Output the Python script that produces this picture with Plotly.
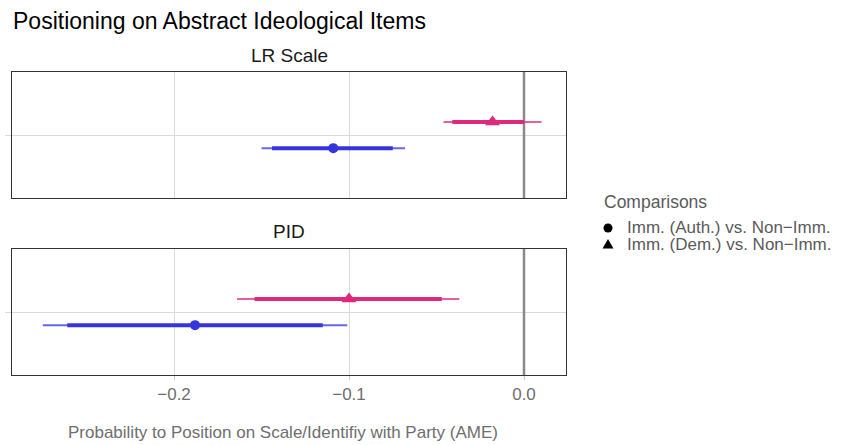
import plotly.graph_objects as go

# Panels (facets) and comparisons
panels = ["LR Scale", "PID"]
comparisons = ["Imm. (Auth.) vs. Non\u2212Imm.", "Imm. (Dem.) vs. Non\u2212Imm."]
symbols = ["circle", "triangle-up"]
marker_sizes = [10, 13]
colors = ["#3535DE", "#DE2A7E"]
offsets = [-0.125, 0.125]

# AME estimates: [LR Scale, PID]
auth_est = [-0.109, -0.188]
auth_lo95 = [-0.150, -0.275]
auth_hi95 = [-0.068, -0.101]
auth_lo90 = [-0.144, -0.261]
auth_hi90 = [-0.075, -0.115]

dem_est = [-0.018, -0.100]
dem_lo95 = [-0.046, -0.164]
dem_hi95 = [0.010, -0.037]
dem_lo90 = [-0.041, -0.154]
dem_hi90 = [0.000, -0.047]

series = [
    (auth_est, auth_lo95, auth_hi95, auth_lo90, auth_hi90),
    (dem_est, dem_lo95, dem_hi95, dem_lo90, dem_hi90),
]

W, H = 844, 445
def px_x(v):
    return v / W
def px_y(v):
    return 1 - v / H

fig = go.Figure()

axis_names = [("x", "y"), ("x2", "y2")]
YR = [0.4, 1.6]
for p, (xa, ya) in enumerate(axis_names):
    # reference line at zero
    fig.add_trace(go.Scatter(
        x=[0, 0], y=YR, mode="lines", line=dict(color="#8A8A8A", width=2.5),
        xaxis=xa, yaxis=ya, showlegend=False, hoverinfo="skip"))
    for s, (est, lo95, hi95, lo90, hi90) in enumerate(series):
        yy = 1 + offsets[s]
        fig.add_trace(go.Scatter(
            x=[lo95[p], hi95[p]], y=[yy, yy], mode="lines",
            line=dict(color=colors[s], width=2), opacity=0.75,
            xaxis=xa, yaxis=ya, showlegend=False, hoverinfo="skip"))
        fig.add_trace(go.Scatter(
            x=[lo90[p], hi90[p]], y=[yy, yy], mode="lines",
            line=dict(color=colors[s], width=4),
            xaxis=xa, yaxis=ya, showlegend=False, hoverinfo="skip"))
        fig.add_trace(go.Scatter(
            x=[est[p]], y=[yy], mode="markers",
            marker=dict(color=colors[s], symbol=symbols[s], size=marker_sizes[s]),
            xaxis=xa, yaxis=ya, showlegend=False, name=comparisons[s]))

xdom = [px_x(12), px_x(566)]
xr = [-0.2926, 0.024]
common_x = dict(range=xr, domain=xdom, tickvals=[-0.2, -0.1, 0.0],
                ticktext=["\u22120.2", "\u22120.1", "0.0"],
                showgrid=True, gridcolor="#DADADA", gridwidth=1, zeroline=False,
                showline=True, linecolor="#333333", linewidth=1, mirror=True,
                ticks="outside", ticklen=4, tickcolor="#C8C8C8",
                tickfont=dict(size=17, color="#6E6E6E"))
common_y = dict(range=YR, tickvals=[1], ticktext=[""],
                showgrid=True, gridcolor="#DADADA", gridwidth=1, zeroline=False,
                showline=True, linecolor="#333333", linewidth=1, mirror=True,
                ticks="outside", ticklen=6, tickcolor="#DADADA")

fig.update_layout(
    width=W, height=H,
    margin=dict(l=0, r=0, t=0, b=0),
    plot_bgcolor="white", paper_bgcolor="white",
    font=dict(family="Liberation Sans, Arial, sans-serif", color="#1A1A1A"),
    xaxis=dict(common_x, anchor="y", showticklabels=False, ticks=""),
    yaxis=dict(common_y, anchor="x", domain=[px_y(198), px_y(72)]),
    xaxis2=dict(common_x, anchor="y2"),
    yaxis2=dict(common_y, anchor="x2", domain=[px_y(375), px_y(249)]),
    showlegend=False,
)

annotations = [
    dict(text="Positioning on Abstract Ideological Items", x=px_x(11), y=px_y(21),
         xanchor="left", yanchor="middle", font=dict(size=23, color="black")),
    dict(text=panels[0], x=px_x(289), y=px_y(56), xanchor="center", yanchor="middle",
         font=dict(size=19, color="#1A1A1A")),
    dict(text=panels[1], x=px_x(289), y=px_y(231), xanchor="center", yanchor="middle",
         font=dict(size=19, color="#1A1A1A")),
    dict(text="Probability to Position on Scale/Identifiy with Party (AME)",
         x=px_x(283), y=px_y(432), xanchor="center", yanchor="middle",
         font=dict(size=17, color="#6E6E6E")),
    # legend (drawn by hand to keep ggplot's tight key spacing)
    dict(text="Comparisons", x=px_x(602), y=px_y(202), xanchor="left", yanchor="middle",
         font=dict(size=17.5, color="#5A5A5A")),
]
legend_rows = [228, 244]
for s, row in enumerate(legend_rows):
    annotations.append(dict(text=comparisons[s], x=px_x(625), y=px_y(row),
                            xanchor="left", yanchor="middle",
                            font=dict(size=17, color="#5A5A5A")))
for a in annotations:
    fig.add_annotation(xref="paper", yref="paper", showarrow=False, **a)

# legend keys: black circle and triangle
r = 4.5
cx, cy = 608, legend_rows[0]
fig.add_shape(type="circle", xref="paper", yref="paper",
              x0=px_x(cx - r), x1=px_x(cx + r), y0=px_y(cy + r), y1=px_y(cy - r),
              fillcolor="black", line=dict(width=0))
cx, cy = 608, legend_rows[1]
tri = "M {} {} L {} {} L {} {} Z".format(px_x(cx - 5.5), px_y(cy + 4.5),
                                         px_x(cx + 5.5), px_y(cy + 4.5),
                                         px_x(cx), px_y(cy - 5))
fig.add_shape(type="path", xref="paper", yref="paper", path=tri,
              fillcolor="black", line=dict(width=0))

fig.write_html("out.html", config={"displayModeBar": False},
               post_script="document.body.style.margin='0';")
